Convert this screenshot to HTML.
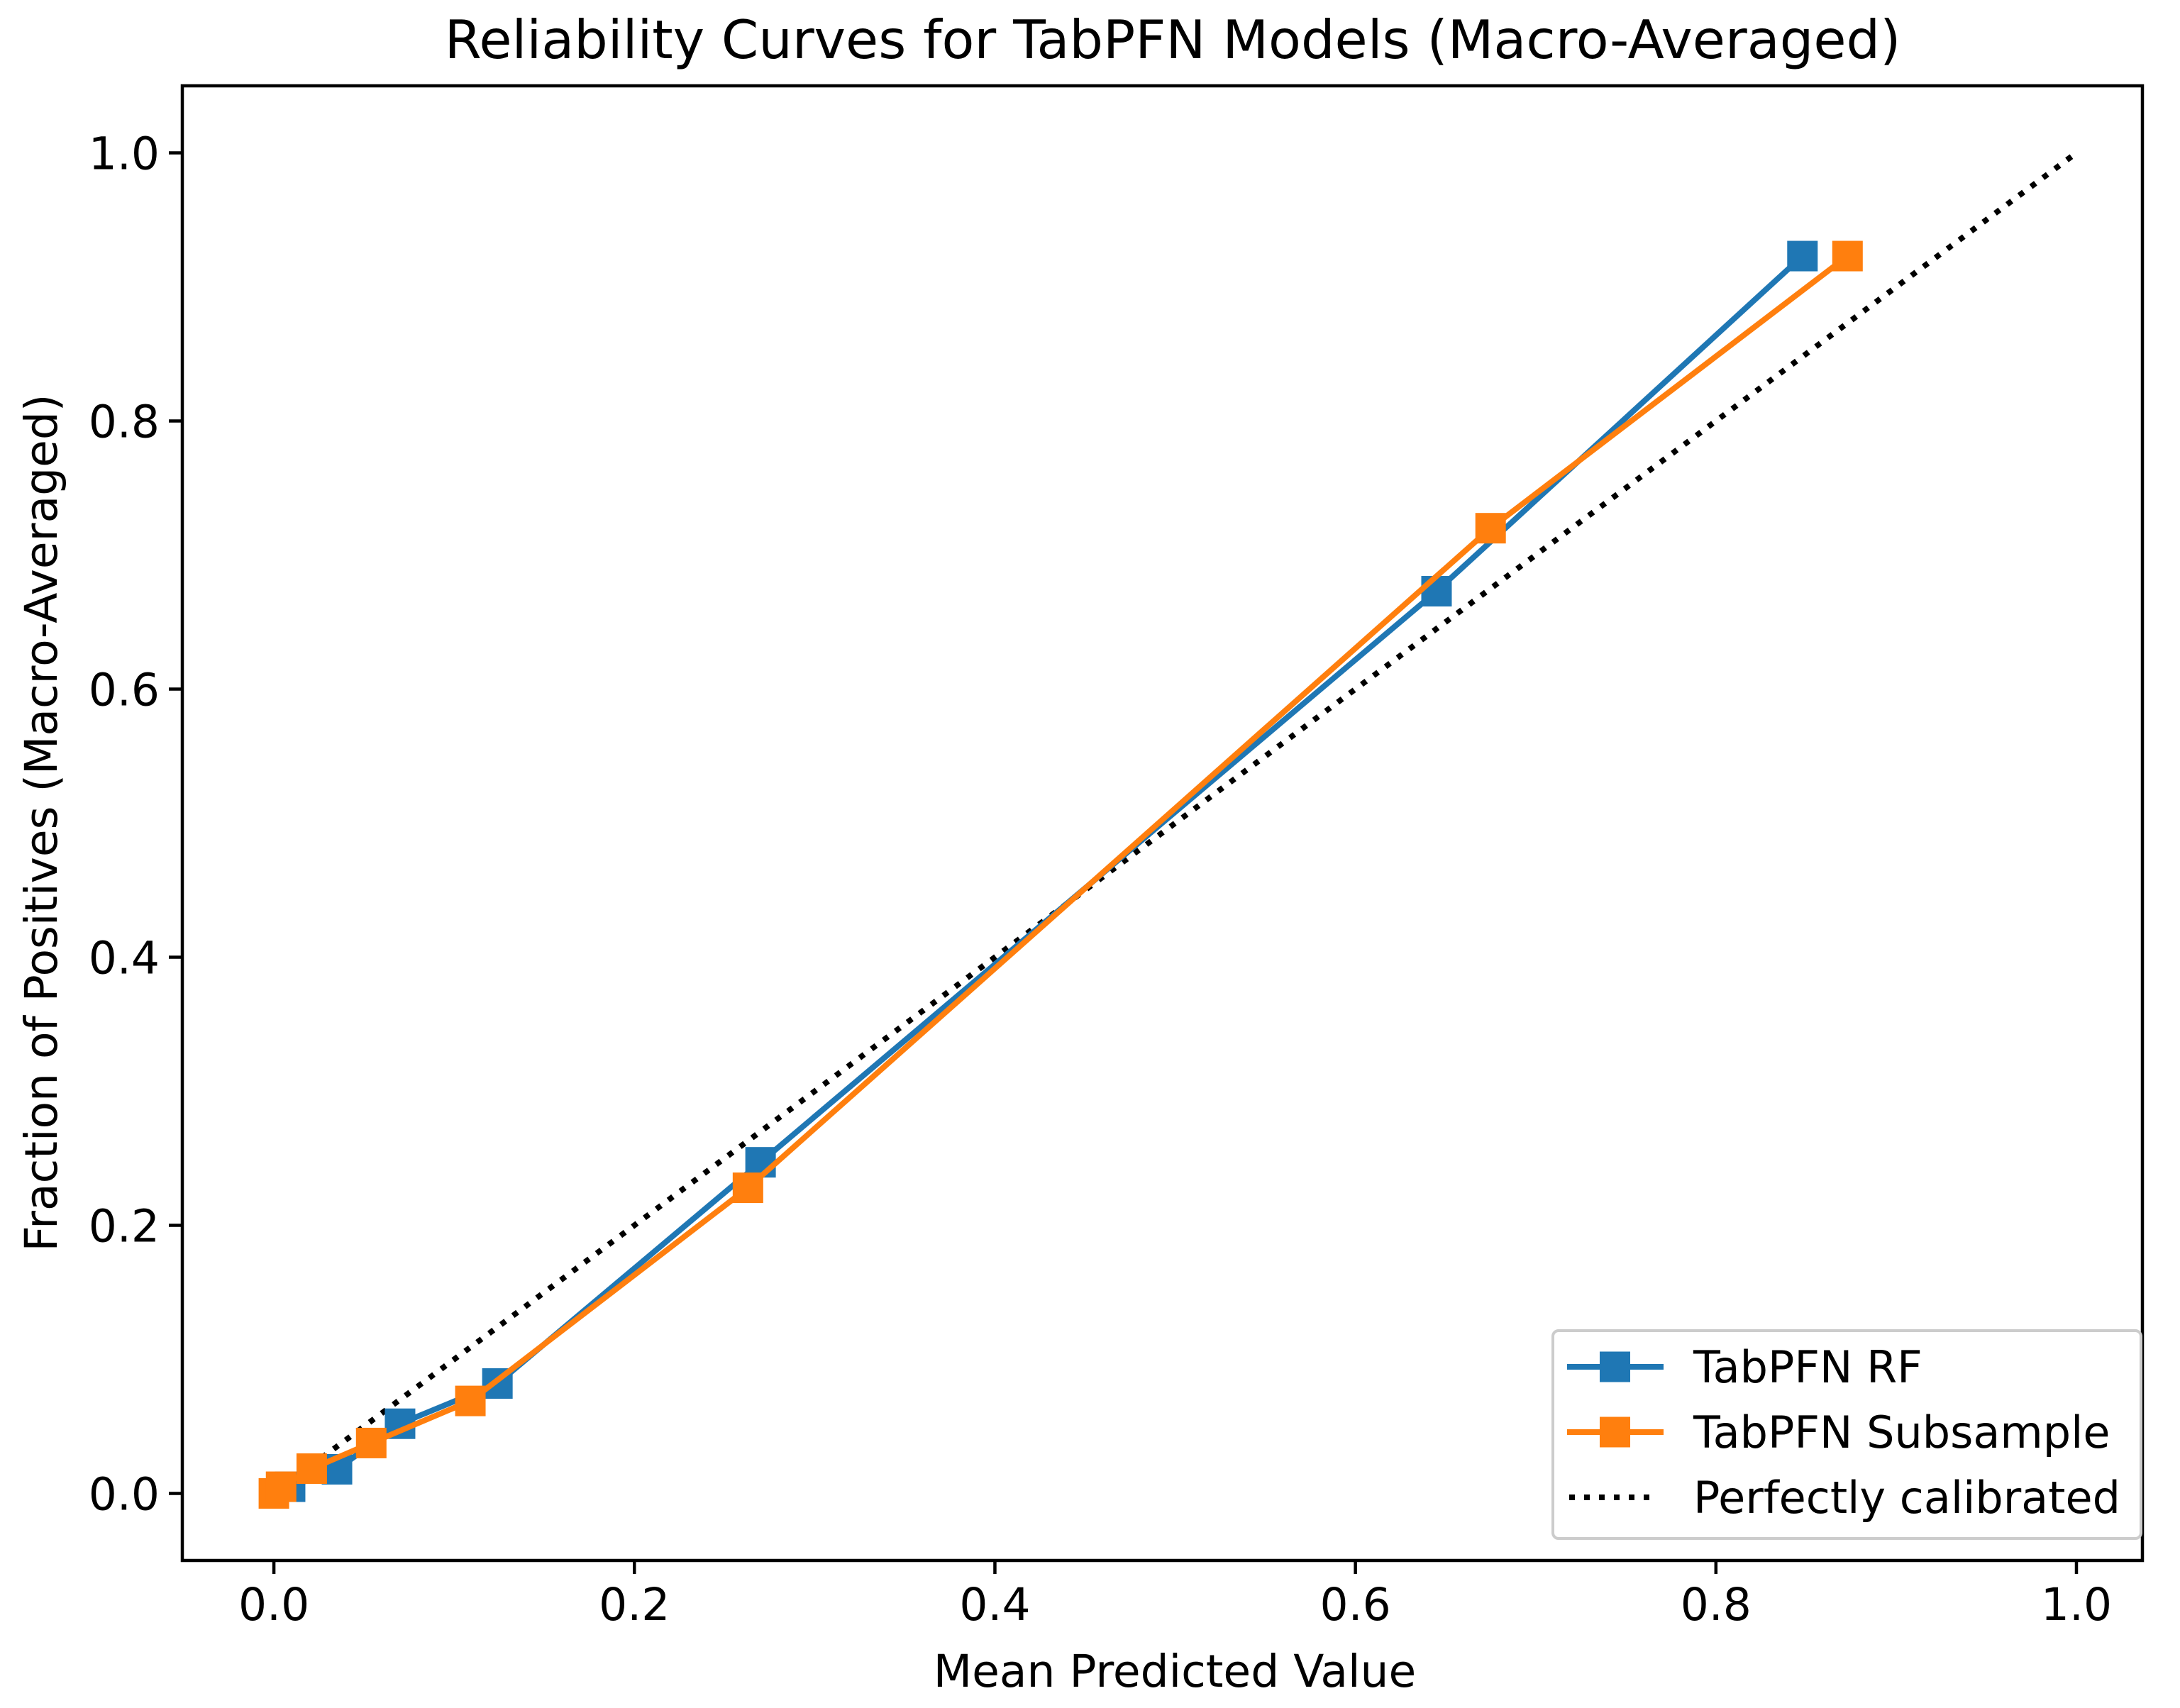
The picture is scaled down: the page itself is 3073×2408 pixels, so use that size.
<!DOCTYPE html>
<html><head><meta charset="utf-8"><style>
html,body{margin:0;padding:0;background:#fff;}
svg{display:block;font-family:"DejaVu Sans","Liberation Sans",sans-serif;}
</style></head><body>
<svg id="chart" width="3073" height="2408" viewBox="0 0 3073 2408" xmlns="http://www.w3.org/2000/svg">
<rect width="3073" height="2408" fill="#fff"/>
<text x="1653" y="82" font-size="75" text-anchor="middle">Reliability Curves for TabPFN Models (Macro-Averaged)</text>
<g id="plot"></g>
<text x="1656" y="2378" font-size="63" text-anchor="middle">Mean Predicted Value</text>
<text x="0" y="0" font-size="63" text-anchor="middle" transform="translate(80,1160) rotate(-90)">Fraction of Positives (Macro-Averaged)</text>
</svg>
<script>
const xTicks = [0.0, 0.2, 0.4, 0.6, 0.8, 1.0];
const yTicks = [0.0, 0.2, 0.4, 0.6, 0.8, 1.0];
const tickLabels = ["0.0", "0.2", "0.4", "0.6", "0.8", "1.0"];
const rfX = [0.009, 0.035, 0.070, 0.124, 0.270, 0.645, 0.848];
const rfY = [0.005, 0.018, 0.052, 0.082, 0.247, 0.673, 0.923];
const subX = [0.0, 0.004, 0.021, 0.054, 0.109, 0.263, 0.675, 0.873];
const subY = [0.0, 0.005, 0.0185, 0.0376, 0.069, 0.228, 0.720, 0.923];
const refX = [0, 1];
const refY = [0, 1];

const NS = "http://www.w3.org/2000/svg";
const L = 257, R = 3020, T = 121, B = 2200;
const xmin = -0.0508, xmax = 1.0366, ymin = -0.05, ymax = 1.05;
function sx(v){ return L + (v - xmin) / (xmax - xmin) * (R - L); }
function sy(v){ return B - (v - ymin) / (ymax - ymin) * (B - T); }
const plot = document.getElementById('plot');
function mk(tag, attrs, parent){
  const e = document.createElementNS(NS, tag);
  for (const k in attrs) e.setAttribute(k, attrs[k]);
  (parent || plot).appendChild(e);
  return e;
}

const ref = mk('polyline', {points: refX.map((v,i)=>sx(v)+','+sy(refY[i])).join(' '), fill:'none', stroke:'#000', 'stroke-width':8, 'stroke-dasharray':'8,13'});



function series(xs, ys, color, name){
  const g = mk('g', {});
  
  
  const line = mk('polyline', {points: xs.map((v,i)=>sx(v)+','+sy(ys[i])).join(' '), fill:'none', stroke:color, 'stroke-width':8, 'stroke-linejoin':'round'}, g);
  
  
  xs.forEach((v,i)=>{
    const m = mk('rect', {x: sx(v)-21.5, y: sy(ys[i])-21.5, width:43, height:43, fill:color}, g);
    
    
  });
}
series(rfX, rfY, '#1f77b4', 'tabpfn-rf');
series(subX, subY, '#ff7f0e', 'tabpfn-subsample');

const frame = mk('rect', {x:L, y:T, width:R-L, height:B-T, fill:'none', stroke:'#000', 'stroke-width':4.5});



xTicks.forEach((v,i)=>{
  const t = mk('line', {x1:sx(v), x2:sx(v), y1:B, y2:B+19, stroke:'#000', 'stroke-width':4.5});
  
  
  const lb = mk('text', {x:sx(v), y:B+84, 'font-size':63, 'text-anchor':'middle'});
  lb.textContent = tickLabels[i];
  
  
});
yTicks.forEach((v,i)=>{
  const t = mk('line', {x1:L-19, x2:L, y1:sy(v), y2:sy(v), stroke:'#000', 'stroke-width':4.5});
  
  
  const lb = mk('text', {x:L-32, y:sy(v)+23, 'font-size':63, 'text-anchor':'end'});
  lb.textContent = tickLabels[i];
  
  
});

const lg = mk('g', {});


const box = mk('rect', {x:2189, y:1876, width:829, height:293, rx:8, fill:'#fff', stroke:'#ccc', 'stroke-width':4}, lg);


const entries = [['TabPFN RF','#1f77b4','solid'],['TabPFN Subsample','#ff7f0e','solid'],['Perfectly calibrated','#000','dot']];
const ey = [1927, 2019, 2111];
entries.forEach((e,i)=>{
  const g = mk('g', {}, lg);
  
  
  const y = ey[i];
  if (e[2] === 'solid'){
    mk('line', {x1:2209, x2:2345, y1:y, y2:y, stroke:e[1], 'stroke-width':8}, g);
    mk('rect', {x:2255, y:y-21.5, width:43, height:43, fill:e[1]}, g);
  } else {
    mk('line', {x1:2212, x2:2330, y1:y, y2:y, stroke:'#000', 'stroke-width':8, 'stroke-dasharray':'8,13'}, g);
  }
  const t = mk('text', {x:2387, y:y+22, 'font-size':62}, g);
  t.textContent = e[0];
});
</script>
</body></html>
